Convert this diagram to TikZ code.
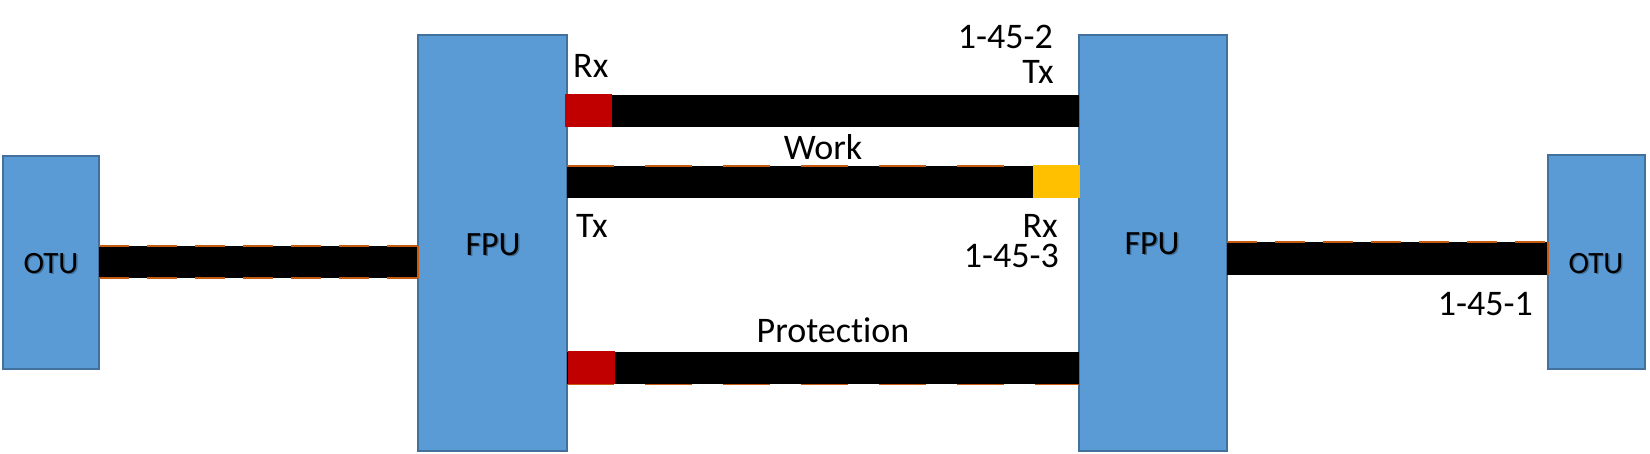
\documentclass[tikz,border=0pt]{standalone}
\usepackage{fontspec}
\setmainfont{Carlito}[Ligatures=NoCommon]
\definecolor{boxfill}{HTML}{5B9BD5}
\definecolor{boxline}{HTML}{41719C}
\definecolor{portred}{HTML}{C00000}
\definecolor{portyel}{HTML}{FFC000}
\definecolor{fiber}{HTML}{C55A11}
\begin{document}
\begin{tikzpicture}[x=1pt,y=-1pt,
  unitbox/.style={draw=boxline,fill=boxfill,line width=2pt,inner sep=0pt,outer sep=0pt,anchor=north west},
  lbl/.style={inner sep=0pt,text height=24pt,text depth=0pt,font=\fontsize{36}{40}\selectfont},
  fputxt/.style={inner sep=0pt,anchor=base,font=\fontsize{34}{40}\selectfont},
  otutxt/.style={inner sep=0pt,anchor=base,font=\fontsize{31}{36}\selectfont},
  shad/.style={text=black,opacity=0.3},
  dashA/.style={draw=fiber,line width=1.5pt,dash pattern=on 30pt off 18pt},
  dashB/.style={draw=fiber,line width=1.5pt,dash pattern=on 47pt off 31pt},
  edgeline/.style={draw=fiber,line width=1.5pt}]
\useasboundingbox (0,0) rectangle (1650,453);
\fill[white] (0,0) rectangle (1650,453);

% boxes
\node[unitbox,minimum width=96pt,minimum height=213pt] (otuL) at (3,156) {};
\node[unitbox,minimum width=149pt,minimum height=416pt] (fpuL) at (418,35) {};
\node[unitbox,minimum width=148pt,minimum height=416pt] (fpuR) at (1079,35) {};
\node[unitbox,minimum width=97pt,minimum height=214pt] (otuR) at (1548,155) {};

% box labels (with soft shadow)
\node[otutxt,shad] at (52.5,274.5) {OTU};
\node[otutxt] (tOtuL) at (51,273) {OTU};
\node[fputxt,shad] at (494.5,256.5) {FPU};
\node[fputxt] (tFpuL) at (493,255) {FPU};
\node[fputxt,shad] at (1153.5,255.5) {FPU};
\node[fputxt] (tFpuR) at (1152,254) {FPU};
\node[otutxt,shad] at (1597.5,274.5) {OTU};
\node[otutxt] (tOtuR) at (1596,273) {OTU};

% left OTU -- left FPU link
\fill[black] (otuL.east |- 0,246) rectangle (fpuL.west |- 0,278);
\draw[dashA] (otuL.east |- 0,246) -- (fpuL.west |- 0,246);
\draw[dashA] (otuL.east |- 0,278) -- (fpuL.west |- 0,278);
\draw[edgeline] (fpuL.west |- 0,246) -- (fpuL.west |- 0,278);

% upper work fibre (Rx at left FPU, Tx at right FPU)
\fill[black] (565,95) rectangle (fpuR.west |- 0,127);
\fill[portred] (565,94) rectangle (612,127);

% lower work fibre (Tx at left FPU, Rx at right FPU)
\fill[black] (fpuL.east |- 0,166) rectangle (fpuR.west |- 0,198);
\draw[dashB] (fpuL.east |- 0,166) -- (fpuR.west |- 0,166);
\fill[portyel] (1033,165) rectangle (1080,198);

% protection fibre
\draw[dashB] (fpuL.east |- 0,384.5) -- (fpuR.west |- 0,384.5);
\fill[black] (fpuL.east |- 0,352) rectangle (fpuR.west |- 0,384);
\fill[portred] (568,351) rectangle (615,384);

% right FPU -- right OTU link
\fill[black] (fpuR.east |- 0,242) rectangle (otuR.west |- 0,275);
\draw[dashA] (fpuR.east |- 0,242) -- (otuR.west |- 0,242);
\draw[edgeline] (otuR.west |- 0,242) -- (otuR.west |- 0,275);

% labels
\node[lbl,anchor=base west] (rx1) at (573,77) {Rx};
\node[lbl,anchor=base east] (p2) at (1053,48) {1-45-2};
\node[lbl,anchor=base east] (tx1) at (1054,83) {Tx};
\node[lbl,anchor=base] (work) at (823,159) {Work};
\node[lbl,anchor=base west] (tx2) at (576,237) {Tx};
\node[lbl,anchor=base east] (rx2) at (1058,237) {Rx};
\node[lbl,anchor=base east] (p3) at (1059,267) {1-45-3};
\node[lbl,anchor=base] (prot) at (833,342) {Protection};
\node[lbl,anchor=base east] (p1) at (1533,315) {1-45-1};
\end{tikzpicture}
\end{document}
